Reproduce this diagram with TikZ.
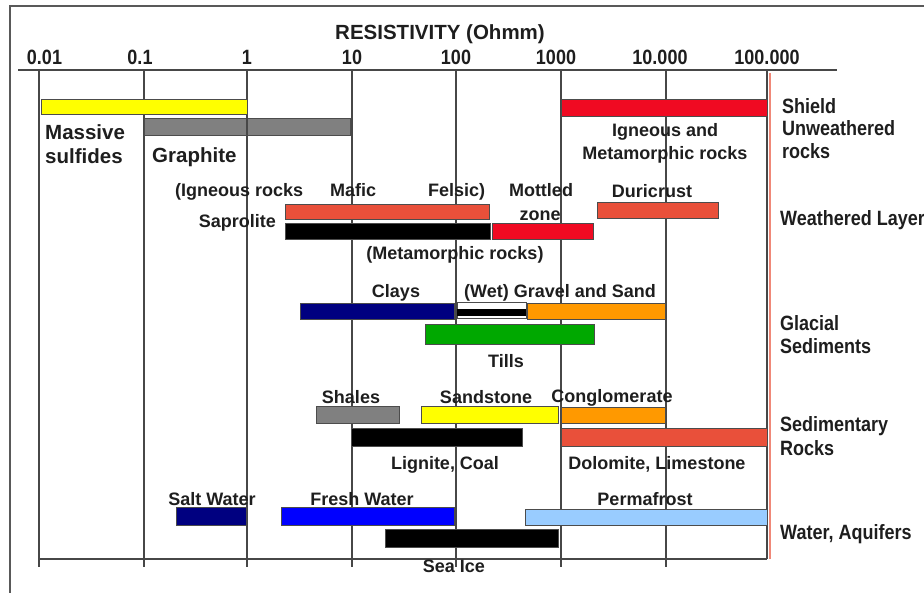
\documentclass[tikz,border=0pt]{standalone}
\usepackage{fontspec}
\setmainfont{Liberation Sans}
\usepackage{graphicx}
\newcommand{\tallt}[1]{\scalebox{1}[1.15]{#1}}
\definecolor{txt}{HTML}{1E1E1E}
\definecolor{cyellow}{HTML}{FFFF00}
\definecolor{cgrey}{HTML}{808080}
\definecolor{cred}{HTML}{F00A22}
\definecolor{ctomato}{HTML}{E9503A}
\definecolor{cnavy}{HTML}{000080}
\definecolor{corange}{HTML}{FF9900}
\definecolor{cgreen}{HTML}{00A800}
\definecolor{cblue}{HTML}{0000FF}
\definecolor{clight}{HTML}{99CCFF}
\definecolor{redline}{HTML}{F08878}
\begin{document}
\begin{tikzpicture}[x=1pt,y=-1pt,
  frameln/.style={draw=black!65,line width=1.3pt},
  gridln/.style={draw=black!72,line width=1.1pt},
  barbox/.style={draw=black!70,line width=0.9pt},
  lbl/.style={font=\fontsize{18}{21}\selectfont\bfseries,text=txt,inner sep=0pt,anchor=base},
  lblw/.style={lbl,anchor=base west},
  lble/.style={lbl,anchor=base east},
  big/.style={lbl,anchor=base west,font=\fontsize{20.5}{24}\selectfont\bfseries},
  ]
\useasboundingbox (0,0) rectangle (924,593);
% frame
\draw[frameln] (10,593) -- (10,6) -- (924,6);
% title
\node[lbl,font=\fontsize{20.5}{24}\selectfont\bfseries] (title) at (440,40) {RESISTIVITY (Ohmm)};
% axes
\draw[gridln] (18,70) -- (837,70);
\draw[gridln] (39,559) -- (767,559);
\foreach \xx in {39,144,247,352,456,561,666}{
  \draw[gridln] (\xx,70) -- (\xx,567);
}
\draw[gridln] (767,70) -- (767,559);
\draw[draw=redline,line width=1.3pt] (770,73) -- (770,559);
% tick labels
\node[lbl] (t1) at (44.5,65) {\tallt{0.01}};
\node[lbl] (t2) at (140,65) {\tallt{0.1}};
\node[lbl] (t3) at (247,65) {\tallt{1}};
\node[lbl] (t4) at (352,65) {\tallt{10}};
\node[lbl] (t5) at (456,65) {\tallt{100}};
\node[lbl] (t6) at (556,65) {\tallt{1000}};
\node[lbl] (t7) at (660,65) {\tallt{10.000}};
\node[lbl] (t8) at (767,65) {\tallt{100.000}};
% bars
\filldraw[barbox,fill=cyellow] (41,99) rectangle (247,114);
\filldraw[barbox,fill=cgrey] (144,118) rectangle (350,135);
\draw[gridln] (247,118) -- (247,135);
\filldraw[barbox,fill=cred] (561,99) rectangle (767,116);
\filldraw[barbox,fill=ctomato] (285,204) rectangle (489,219);
\filldraw[barbox,fill=black] (285,223) rectangle (490,239);
\filldraw[barbox,fill=cred] (492,223) rectangle (593,239);
\filldraw[barbox,fill=ctomato] (597,202) rectangle (718,218);
\filldraw[barbox,fill=cnavy] (300,303) rectangle (454,319);
\filldraw[barbox,fill=white] (457,302) rectangle (526,318);
\fill[black] (457,309.5) rectangle (526,316);
\filldraw[barbox,fill=corange] (527,303) rectangle (665,319);
\filldraw[barbox,fill=cgreen] (425,324) rectangle (594,344);
\filldraw[barbox,fill=cgrey] (316,406) rectangle (399,423);
\filldraw[barbox,fill=cyellow] (421,406) rectangle (558,423);
\filldraw[barbox,fill=corange] (561,407) rectangle (665,423);
\filldraw[barbox,fill=black] (351,428) rectangle (522,446);
\filldraw[barbox,fill=ctomato] (561,428) rectangle (767,446);
\filldraw[barbox,fill=cnavy] (176,507) rectangle (246,525);
\filldraw[barbox,fill=cblue] (281,507) rectangle (454,525);
\filldraw[barbox,fill=clight] (525,509) rectangle (767,525);
\filldraw[barbox,fill=black] (385,529) rectangle (558,547);
% labels
\node[big] (massive) at (45,140) {Massive};
\node[big] (sulfides) at (45,164) {sulfides};
\node[big] (graphite) at (152,163) {Graphite};
\node[lbl] (ign1) at (665,137) {Igneous and};
\node[lbl] (ign2) at (665,160) {Metamorphic rocks};
\node[lblw] (igrocks) at (175,197) {(Igneous rocks};
\node[lblw] (mafic) at (330,197) {Mafic};
\node[lblw] (felsic) at (428,197) {Felsic)};
\node[lbl] (mottled) at (541,197) {Mottled};
\node[lbl] (zone) at (540,221) {zone};
\node[lbl] (duri) at (652,198) {Duricrust};
\node[lble] (sapro) at (276,228) {Saprolite};
\node[lbl] (meta) at (455,260) {(Metamorphic rocks)};
\node[lbl] (clays) at (396,298) {Clays};
\node[lbl] (gravel) at (560,298) {(Wet) Gravel and Sand};
\node[lbl] (tills) at (506,368) {Tills};
\node[lbl] (shales) at (351,404) {Shales};
\node[lbl] (sand) at (486,404) {Sandstone};
\node[lbl] (cong) at (612,403) {Conglomerate};
\node[lbl] (lignite) at (445,470) {Lignite, Coal};
\node[lbl] (dolo) at (657,470) {Dolomite, Limestone};
\node[lbl] (salt) at (212,505) {Salt Water};
\node[lbl] (fresh) at (362,505) {Fresh Water};
\node[lbl] (perma) at (645,505) {Permafrost};
\node[lbl] (seaice) at (454,572) {Sea Ice};
% right-side group labels
\node[lblw] (r1) at (782,114) {\tallt{Shield}};
\node[lblw] (r2) at (782,136) {\tallt{Unweathered}};
\node[lblw] (r3) at (782,159) {\tallt{rocks}};
\node[lblw] (r4) at (780,226) {\tallt{Weathered Layer}};
\node[lblw] (r5) at (780,331) {\tallt{Glacial}};
\node[lblw] (r6) at (780,354) {\tallt{Sediments}};
\node[lblw] (r7) at (780,432) {\tallt{Sedimentary}};
\node[lblw] (r8) at (780,456) {\tallt{Rocks}};
\node[lblw] (r9) at (780,539) {\tallt{Water, Aquifers}};
\end{tikzpicture}
\end{document}
